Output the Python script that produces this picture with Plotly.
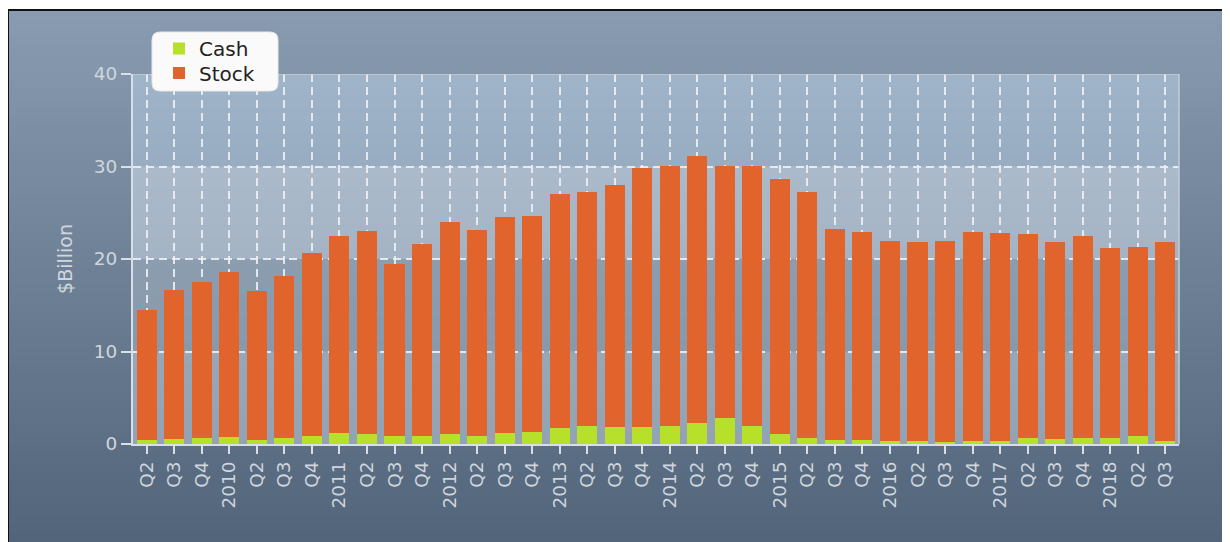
import plotly.graph_objects as go

# ---------------- data ----------------
categories = [
    "2009 Q2", "2009 Q3", "2009 Q4",
    "2010 Q1", "2010 Q2", "2010 Q3", "2010 Q4",
    "2011 Q1", "2011 Q2", "2011 Q3", "2011 Q4",
    "2012 Q1", "2012 Q2", "2012 Q3", "2012 Q4",
    "2013 Q1", "2013 Q2", "2013 Q3", "2013 Q4",
    "2014 Q1", "2014 Q2", "2014 Q3", "2014 Q4",
    "2015 Q1", "2015 Q2", "2015 Q3", "2015 Q4",
    "2016 Q1", "2016 Q2", "2016 Q3", "2016 Q4",
    "2017 Q1", "2017 Q2", "2017 Q3", "2017 Q4",
    "2018 Q1", "2018 Q2", "2018 Q3",
]
tick_labels = [
    "Q2", "Q3", "Q4",
    "2010", "Q2", "Q3", "Q4",
    "2011", "Q2", "Q3", "Q4",
    "2012", "Q2", "Q3", "Q4",
    "2013", "Q2", "Q3", "Q4",
    "2014", "Q2", "Q3", "Q4",
    "2015", "Q2", "Q3", "Q4",
    "2016", "Q2", "Q3", "Q4",
    "2017", "Q2", "Q3", "Q4",
    "2018", "Q2", "Q3",
]
cash = [0.45, 0.50, 0.70, 0.80, 0.47, 0.70, 0.90, 1.19, 1.12, 0.90, 0.90, 1.08, 0.88,
        1.19, 1.26, 1.69, 1.90, 1.87, 1.87, 1.98, 2.23, 2.77, 1.95, 1.12, 0.68, 0.43,
        0.43, 0.32, 0.32, 0.25, 0.36, 0.36, 0.68, 0.58, 0.68, 0.68, 0.83, 0.32]
stock = [14.05, 16.10, 16.80, 17.80, 16.03, 17.50, 19.80, 21.31, 21.88, 18.60, 20.70,
         22.92, 22.22, 23.31, 23.44, 25.31, 25.30, 26.13, 27.93, 28.07, 28.87, 27.28,
         28.15, 27.48, 26.52, 22.77, 22.52, 21.68, 21.48, 21.75, 22.54, 22.44, 22.02,
         21.22, 21.82, 20.52, 20.47, 21.48]
y_ticks = [0, 10, 20, 30, 40]

# ---------------- styling ----------------
FONT = "DejaVu Sans"
TXT = "#cfd6dd"
CASH_C = "#b6e02a"
STOCK_C = "#e0642c"

OFF = 8                      # page body margin
W, H = 1222, 534
L, R, T, B = 125, 51, 66, 98
pw, ph = W - L - R, H - T - B


def px_x(px):               # screenshot px -> paper
    return (px - OFF - L) / pw


def px_y(py):
    return (H - B - (py - OFF)) / ph


def hexmix(c1, c2, t):
    a = [int(c1[i:i + 2], 16) for i in (1, 3, 5)]
    b = [int(c2[i:i + 2], 16) for i in (1, 3, 5)]
    m = [round(a[k] + (b[k] - a[k]) * t) for k in range(3)]
    return "#%02x%02x%02x" % tuple(m)


shapes = []
# panel gradient background (paper coordinates), overlapping to avoid seams
n = 60
top_px, bot_px = 10, 560
for i in range(n):
    y0 = top_px + (542 - top_px) * i / n
    shapes.append(dict(type="rect", xref="paper", yref="paper",
                       x0=px_x(8), x1=px_x(1240), y0=px_y(bot_px), y1=px_y(y0),
                       fillcolor=hexmix("#889bb0", "#53657a", i / (n - 1)),
                       line=dict(width=0), layer="below"))
# black frame (top and left visible)
shapes.append(dict(type="rect", xref="paper", yref="paper",
                   x0=px_x(8), x1=px_x(1260), y0=px_y(580), y1=px_y(10),
                   fillcolor="rgba(0,0,0,0)", line=dict(color="#111111", width=2),
                   layer="below"))

# alternating bands in plot area
bands = [(30, 40, "#9fb4c9", "#98adc2"), (20, 30, "#aabaca", "#a4b4c4"),
         (10, 20, "#8b9daf", "#8899ab"), (0, 10, "#97a7b7", "#93a3b3")]
for y0, y1, ctop, cbot in bands:
    m = 8
    for i in range(m):
        a = y1 - (y1 - y0) * i / m
        shapes.append(dict(type="rect", xref="x domain", yref="y",
                           x0=0, x1=1, y0=y0, y1=a,
                           fillcolor=hexmix(ctop, cbot, i / (m - 1)),
                           line=dict(width=0), layer="below"))

# top / right plot border
shapes.append(dict(type="line", xref="x domain", yref="y", x0=0, x1=1, y0=40, y1=40,
                   line=dict(color="#c3ccd5", width=1.5), layer="above"))
shapes.append(dict(type="line", xref="x domain", yref="y", x0=1, x1=1, y0=0, y1=40,
                   line=dict(color="#c3ccd5", width=1.5), layer="above"))

# rounded legend box
lx0, lx1 = px_x(152), px_x(278)
ly0, ly1 = px_y(91), px_y(32)
rx, ry = 8 / pw, 8 / ph
path = (f"M {lx0 + rx},{ly1} L {lx1 - rx},{ly1} Q {lx1},{ly1} {lx1},{ly1 - ry} "
        f"L {lx1},{ly0 + ry} Q {lx1},{ly0} {lx1 - rx},{ly0} "
        f"L {lx0 + rx},{ly0} Q {lx0},{ly0} {lx0},{ly0 + ry} "
        f"L {lx0},{ly1 - ry} Q {lx0},{ly1} {lx0 + rx},{ly1} Z")
shapes.append(dict(type="path", xref="paper", yref="paper", path=path,
                   fillcolor="#fafafa", line=dict(color="#e8e8e8", width=1),
                   layer="above"))

fig = go.Figure()
fig.add_trace(go.Bar(x=categories, y=cash, name="Cash", legend="legend",
                     marker=dict(color=CASH_C, line=dict(width=0))))
fig.add_trace(go.Bar(x=categories, y=stock, name="Stock", legend="legend2",
                     marker=dict(color=STOCK_C, line=dict(width=0))))

leg_common = dict(xanchor="left", yanchor="top", bgcolor="rgba(0,0,0,0)",
                  borderwidth=0, itemclick=False,
                  font=dict(family=FONT, size=20, color="#222222"))

fig.update_layout(
    width=W, height=H,
    margin=dict(l=L, r=R, t=T, b=B, pad=0),
    barmode="stack", bargap=0.27,
    paper_bgcolor="#ffffff", plot_bgcolor="rgba(0,0,0,0)",
    font=dict(family=FONT, size=18, color=TXT),
    shapes=shapes,
    showlegend=True,
    legend=dict(x=px_x(159), y=px_y(29), **leg_common),
    legend2=dict(x=px_x(159), y=px_y(53.5), **leg_common),
    xaxis=dict(type="category", tickmode="array", tickvals=categories,
               ticktext=tick_labels, tickangle=-90,
               showgrid=True, gridcolor="rgba(236,240,244,0.9)", gridwidth=1.5,
               griddash="8px,5px",
               showline=True, linecolor="#d8dfe6", linewidth=2,
               ticks="outside", ticklen=8, tickwidth=1.5, tickcolor="#d8dfe6",
               tickfont=dict(family=FONT, size=18.5, color=TXT),
               zeroline=False, fixedrange=True),
    yaxis=dict(range=[0, 40], tickmode="array", tickvals=y_ticks,
               showgrid=True, gridcolor="rgba(236,240,244,0.9)", gridwidth=1.5,
               griddash="8px,5px",
               showline=True, linecolor="#d8dfe6", linewidth=2,
               ticks="outside", ticklen=10, tickwidth=1.5, tickcolor="#d8dfe6",
               tickfont=dict(family=FONT, size=18.5, color=TXT),
               title=dict(text="$Billion", standoff=16,
                          font=dict(family=FONT, size=19, color=TXT)),
               zeroline=False, fixedrange=True),
)

fig.write_html("out.html", config={"displayModeBar": False})
